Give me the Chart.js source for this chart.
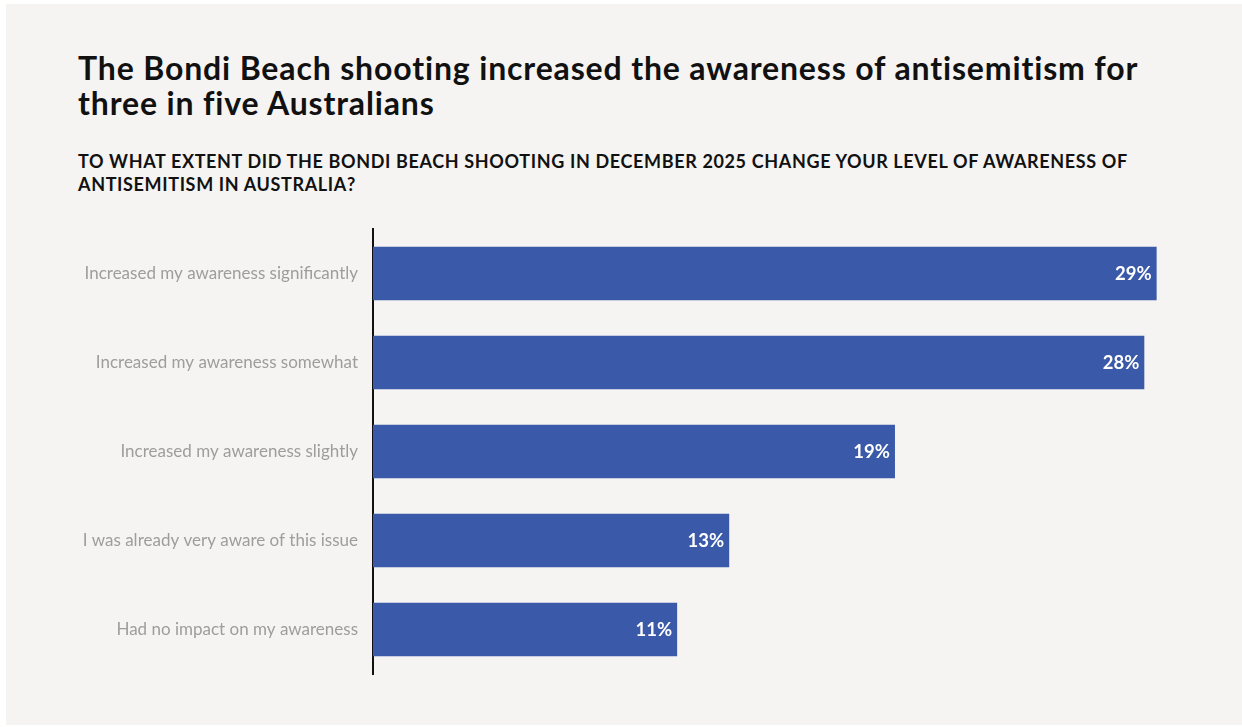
<!DOCTYPE html>
<html lang="en">
<head>
  <meta charset="UTF-8">
  <title>Bondi Beach shooting and awareness of antisemitism</title>
  <script src="https://cdn.jsdelivr.net/npm/chart.js"></script>
  <style>
    body { margin: 0; background: #fff; font-family: Lato, sans-serif; }
    .panel { position: absolute; left: 6px; top: 4px; width: 1236px; height: 721px; background: #f5f4f2; }
    h1 { position: absolute; left: 72px; top: 46px; margin: 0; font-size: 32px; line-height: 35px; font-weight: 700; letter-spacing: 0.85px; color: #111; white-space: nowrap; }
    h2 { position: absolute; left: 72px; top: 146px; margin: 0; font-size: 18px; line-height: 23px; font-weight: 700; letter-spacing: 0.64px; color: #111; white-space: nowrap; }
    .chart-box { position: absolute; left: 0; top: 196px; width: 1236px; height: 525px; }
  </style>
</head>
<body>
  <div class="panel">
    <h1>The Bondi Beach shooting increased the awareness of antisemitism for<br>three in five Australians</h1>
    <h2>TO WHAT EXTENT DID THE BONDI BEACH SHOOTING IN DECEMBER 2025 CHANGE YOUR LEVEL OF AWARENESS OF<br>ANTISEMITISM IN AUSTRALIA?</h2>
    <div class="chart-box"><canvas id="chart"></canvas></div>
  </div>

  <script>
    // answers and share of respondents (%)
    const categories = [
      'Increased my awareness significantly',
      'Increased my awareness somewhat',
      'Increased my awareness slightly',
      'I was already very aware of this issue',
      'Had no impact on my awareness'
    ];
    const shares = [28.6, 28.15, 19.05, 13.0, 11.1];

    // value labels at the end of each bar
    const barLabels = {
      id: 'barLabels',
      afterDatasetsDraw(chart) {
        const ctx = chart.ctx;
        const meta = chart.getDatasetMeta(0);
        ctx.save();
        ctx.font = '700 18.5px Lato';
        ctx.fillStyle = '#fff';
        ctx.textAlign = 'right';
        ctx.textBaseline = 'middle';
        meta.data.forEach((bar, i) => {
          ctx.fillText(Math.round(shares[i]) + '%', bar.x - 5, bar.y + 1);
        });
        ctx.restore();
      }
    };

    new Chart(document.getElementById('chart'), {
      type: 'bar',
      data: {
        labels: categories,
        datasets: [{
          data: shares,
          backgroundColor: '#3a59a8',
          categoryPercentage: 1,
          barPercentage: 0.6
        }]
      },
      options: {
        indexAxis: 'y',
        responsive: true,
        maintainAspectRatio: false,
        animation: false,
        layout: { padding: { top: 29, bottom: 51, left: 0, right: 47 } },
        plugins: { legend: { display: false }, tooltip: { enabled: false } },
        scales: {
          x: { display: false, min: 0, max: 30 },
          y: {
            afterFit(scale) { scale.width = 367; },
            grid: { display: false, drawTicks: false },
            border: { display: true, color: '#111', width: 2 },
            ticks: { padding: 15, color: '#9d9d9d', font: { family: 'Lato', size: 17 } }
          }
        }
      },
      plugins: [barLabels]
    });
  </script>
</body>
</html>
